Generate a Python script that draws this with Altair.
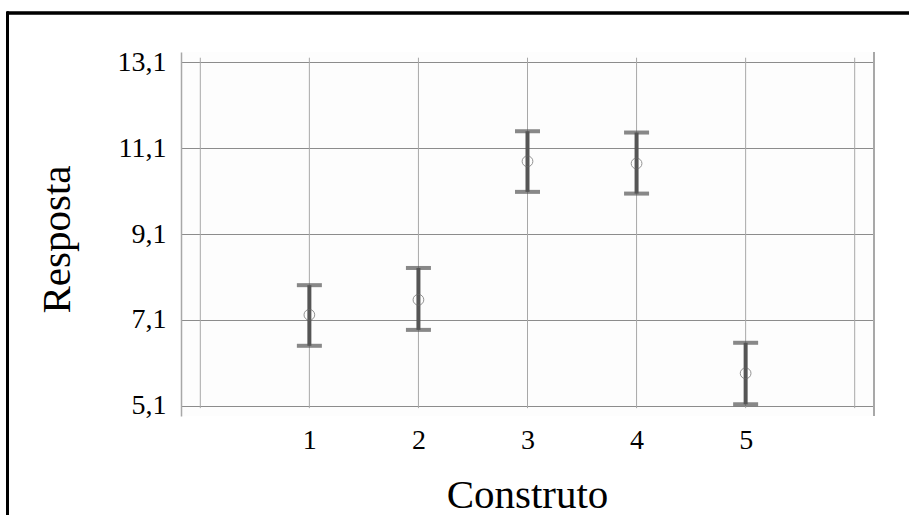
import altair as alt
import pandas as pd

# Data
construto = [1, 2, 3, 4, 5]
media = [7.22, 7.57, 10.79, 10.74, 5.86]
superior = [7.91, 8.31, 11.49, 11.46, 6.57]
inferior = [6.50, 6.87, 10.08, 10.04, 5.14]

y_ticks = [5.1, 7.1, 9.1, 11.1, 13.1]
x_grid = [0, 1, 2, 3, 4, 5, 6]
x_labels = [1, 2, 3, 4, 5]

x_dom = [-0.177, 6.177]
y_dom = [4.867, 13.333]

FONT = "Liberation Serif"

df = pd.DataFrame({"Construto": construto, "Media": media,
                   "Sup": superior, "Inf": inferior})
grid_df = pd.DataFrame({"gx": x_grid})

xs = alt.Scale(domain=x_dom, nice=False, zero=False)
ys = alt.Scale(domain=y_dom, nice=False, zero=False)

base = alt.Chart(df)

x_axis = alt.Axis(values=x_labels, grid=False, domain=False, ticks=False,
                  format="d", labelPadding=10, title="Construto",
                  labelFont=FONT, titleFont=FONT,
                  titleBaseline="alphabetic", titleY=91, titleX=346)
y_axis = alt.Axis(values=y_ticks, grid=True, gridColor="#8c8c8c", gridWidth=1,
                  domain=True, domainColor="#a8a8a8", domainWidth=1.5,
                  ticks=False,
                  labelExpr="replace(format(datum.value, '.1f'), '.', ',')",
                  labelPadding=15, title="Resposta",
                  labelFont=FONT, titleFont=FONT,
                  titleBaseline="alphabetic",
                  titleAngle=270, titleX=-112, titleY=187)

# vertical grid lines (carries the axes)
vgrid = alt.Chart(grid_df).mark_rule(color="#a8a8a8", strokeWidth=1).encode(
    x=alt.X("gx:Q", scale=xs, axis=x_axis),
    y=alt.YDatum(13.2, scale=ys, axis=y_axis),
    y2=alt.datum(5.05),
)

# right frame line
right_line = alt.Chart(df).mark_rule(color="#a8a8a8", strokeWidth=1.5).encode(
    x=alt.XDatum(x_dom[1]),
    y=alt.YDatum(y_dom[1]),
    y2=alt.datum(y_dom[0]),
)

points = base.mark_point(shape="circle", filled=False, size=115,
                         color="#666666", strokeWidth=1).encode(
    x=alt.X("Construto:Q"),
    y=alt.Y("Media:Q"),
)

bars = base.mark_rule(color="#555555", strokeWidth=4).encode(
    x=alt.X("Construto:Q"),
    y=alt.Y("Inf:Q"),
    y2="Sup:Q",
)
cap_hi = base.mark_tick(color="#555555", orient="horizontal", size=25,
                        thickness=4).encode(
    x=alt.X("Construto:Q"),
    y=alt.Y("Sup:Q"),
)
cap_lo = base.mark_tick(color="#555555", orient="horizontal", size=25,
                        thickness=4).encode(
    x=alt.X("Construto:Q"),
    y=alt.Y("Inf:Q"),
)

# outer frame (top and left edges of the figure border)
frame_top = alt.Chart(df).mark_rule(color="black", strokeWidth=2.5).encode(
    x=alt.value(-174), x2=alt.value(740), y=alt.value(-39))
frame_left = alt.Chart(df).mark_rule(color="black", strokeWidth=2.5).encode(
    x=alt.value(-173.5), y=alt.value(-40.2), y2=alt.value(470))

chart = alt.layer(vgrid, right_line, bars, cap_hi, cap_lo, points,
                  frame_top, frame_left).properties(
    width=693, height=364,
    autosize=alt.AutoSizeParams(type="none"),
    padding={"left": 181, "top": 52, "right": 35, "bottom": 99},
    background="white",
).configure_view(fill="#fdfdfd", stroke=None).configure_axis(
    labelFont=FONT, labelFontSize=28, labelColor="black",
    titleFont=FONT, titleFontSize=41, titleFontWeight="normal", titleColor="black",
)

chart.save("out.html", embed_options={"renderer": "svg", "actions": False})
